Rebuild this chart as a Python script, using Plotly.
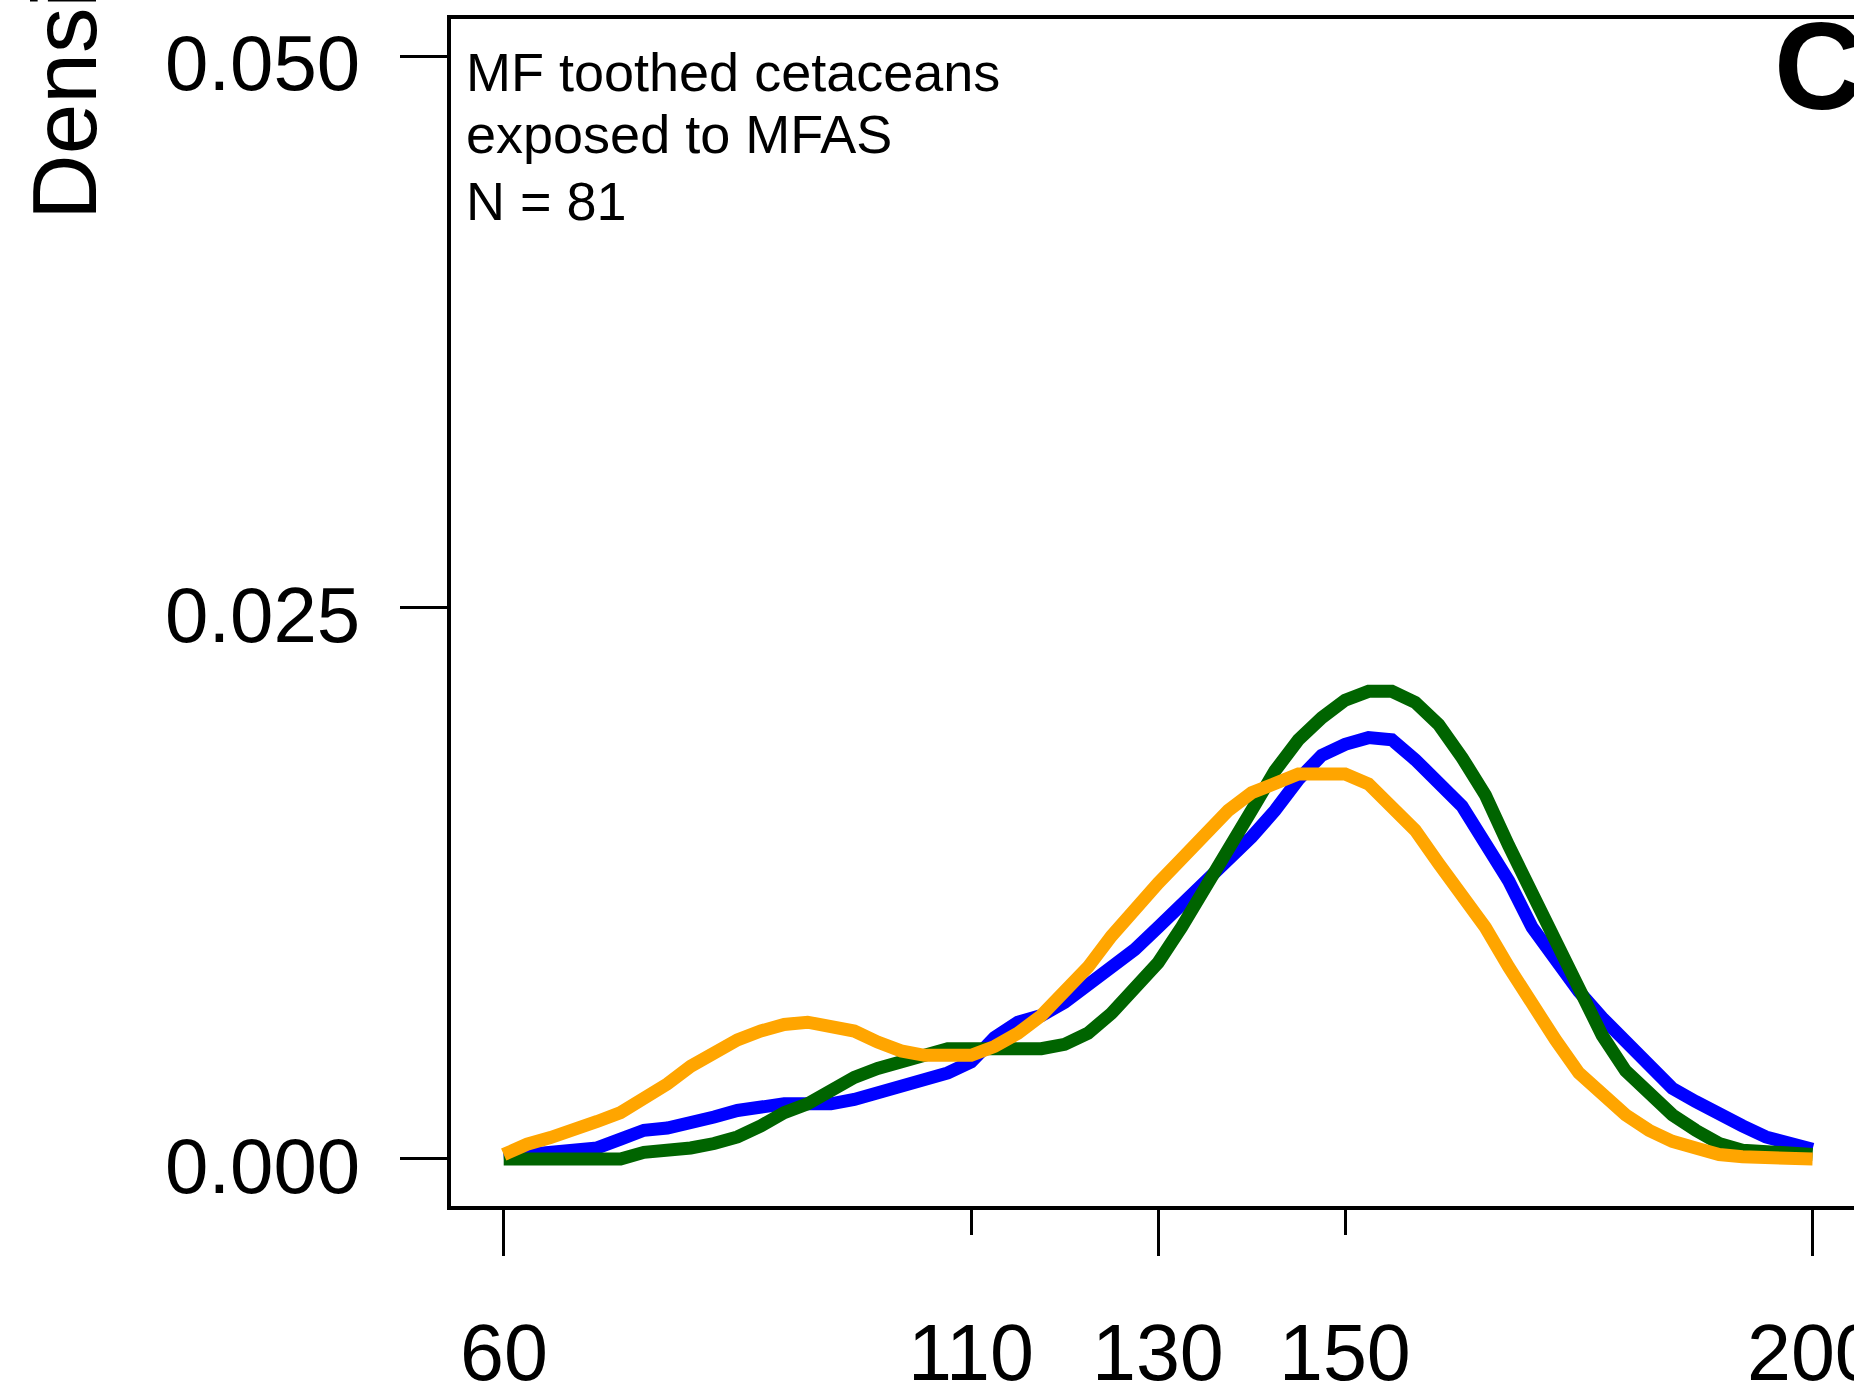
import plotly.graph_objects as go

# ---- data ----
X = [60 + 2.5 * i for i in range(57)]  # evaluation grid 60..200

BLUE = [0.0001, 0.0002, 0.0004, 0.00045, 0.0005, 0.0009, 0.0013, 0.0014, 0.0016, 0.0019,
        0.0022, 0.0024, 0.0025, 0.0025, 0.0025, 0.0027, 0.0030, 0.0032, 0.0035, 0.0039,
        0.0044, 0.0055, 0.0062, 0.0065, 0.0071, 0.0079, 0.0086, 0.0095, 0.0105, 0.0115,
        0.0124, 0.0135, 0.0146, 0.0158, 0.0172, 0.0183, 0.0188, 0.0191, 0.0190, 0.0181,
        0.0170, 0.0160, 0.0143, 0.0126, 0.0105, 0.0090, 0.0076, 0.0064, 0.0053, 0.0043,
        0.0032, 0.0026, 0.0020, 0.0015, 0.0010, 0.0007, 0.00044]

GREEN = [0.0, 0.0, 0.0, 0.0, 0.0, 0.0, 0.0003, 0.00036, 0.0005, 0.0007,
         0.0010, 0.0015, 0.0021, 0.0025, 0.0031, 0.0037, 0.0041, 0.0044, 0.0047, 0.0050,
         0.0050, 0.0050, 0.0050, 0.0050, 0.0052, 0.0057, 0.0066, 0.0077, 0.0089, 0.0105,
         0.0122, 0.0140, 0.0158, 0.0176, 0.0190, 0.0200, 0.0208, 0.0212, 0.0212, 0.0207,
         0.0197, 0.0182, 0.0165, 0.0142, 0.0120, 0.0100, 0.0076, 0.0056, 0.0040, 0.0030,
         0.0020, 0.0013, 0.0007, 0.0004, 0.0003, 0.0002, 0.0002]

ORANGE = [0.0002, 0.00067, 0.00097, 0.0014, 0.0017, 0.0021, 0.0027, 0.0034, 0.0042, 0.0048,
          0.0054, 0.0058, 0.0061, 0.0062, 0.0060, 0.0058, 0.0053, 0.0049, 0.0047, 0.0047,
          0.0047, 0.0051, 0.0057, 0.0065, 0.0076, 0.0087, 0.0101, 0.0114, 0.0125, 0.0136,
          0.0147, 0.0158, 0.0166, 0.0171, 0.01745, 0.01745, 0.01745, 0.0170, 0.0160, 0.0149,
          0.0134, 0.0119, 0.0105, 0.0087, 0.0070, 0.0054, 0.0039, 0.0029, 0.0020, 0.0013,
          0.0008, 0.0005, 0.0002, 0.0001, 0.00005, 0.0, 0.0]

X_TICKS_LONG = [60, 130, 200]
X_TICKS_SHORT = [110, 150]
Y_TICKS = [0.0, 0.025, 0.050]
ANNOT_LINES = ["MF toothed cetaceans", "exposed to MFAS", "N = 81"]
PANEL = "C"
Y_TITLE = "Density"

# ---- layout geometry (pixels) ----
W, H = 1854, 1391
L, R, T, B = 451, 0, 19, 185
PW, PH = W - L - R, H - T - B
FONT = "Liberation Sans, Arial, Helvetica, sans-serif"


def px_x(p):
    return (p - L) / PW


def px_y(p):
    return (H - B - p) / PH


fig = go.Figure()
for ys, col in [(BLUE, "#0000FF"), (GREEN, "#006400"), (ORANGE, "#FFA500")]:
    fig.add_trace(go.Scatter(x=X, y=ys, mode="lines",
                             line=dict(color=col, width=13),
                             showlegend=False, hoverinfo="skip"))

# invisible trace so the second (short-tick) axis is drawn
fig.add_trace(go.Scatter(x=X_TICKS_SHORT, y=[None] * len(X_TICKS_SHORT), xaxis="x2",
                         mode="markers", showlegend=False, hoverinfo="skip"))

XR = [54.363, 204.43]
YR = [-0.002132, 0.051679]

annotations = []
for v in Y_TICKS:
    annotations.append(dict(x=px_x(362), xref="paper", y=v, yref="y",
                            text=f"{v:.3f}", showarrow=False, xanchor="right",
                            yanchor="middle", yshift=-7,
                            font=dict(family=FONT, size=78, color="black")))
for v in sorted(X_TICKS_LONG + X_TICKS_SHORT):
    annotations.append(dict(x=v, xref="x", y=px_y(1352), yref="paper",
                            text=str(v), showarrow=False, xanchor="center",
                            yanchor="middle",
                            font=dict(family=FONT, size=79, color="black")))
for i, (line, base) in enumerate(zip(ANNOT_LINES, [91, 153, 220])):
    annotations.append(dict(x=px_x(464), xref="paper", y=px_y(base - 19), yref="paper",
                            text=line, showarrow=False, xanchor="left",
                            yanchor="middle",
                            font=dict(family=FONT, size=54, color="black")))
annotations.append(dict(x=px_x(1772), xref="paper", y=px_y(66), yref="paper",
                        text=f"<b>{PANEL}</b>", showarrow=False, xanchor="left",
                        yanchor="middle",
                        font=dict(family=FONT, size=124, color="black")))
annotations.append(dict(x=px_x(64), xref="paper", y=px_y(68), yref="paper",
                        text=Y_TITLE, textangle=-90, showarrow=False,
                        xanchor="center", yanchor="middle",
                        font=dict(family=FONT, size=91, color="black")))

fig.update_layout(
    width=W, height=H,
    margin=dict(l=L, r=R, t=T, b=B, pad=0),
    paper_bgcolor="white", plot_bgcolor="white",
    showlegend=False,
    xaxis=dict(range=XR, showgrid=False, zeroline=False, showline=True,
               linecolor="black", linewidth=4, mirror=True,
               tickmode="array", tickvals=X_TICKS_LONG, ticks="outside",
               ticklen=46, tickwidth=2.5, tickcolor="black", showticklabels=False),
    xaxis2=dict(range=XR, overlaying="x", anchor="y", side="bottom",
                showgrid=False, zeroline=False, showline=False,
                tickmode="array", tickvals=X_TICKS_SHORT, ticks="outside",
                ticklen=28, tickwidth=2.5, tickcolor="black", showticklabels=False),
    yaxis=dict(range=YR, showgrid=False, zeroline=False, showline=True,
               linecolor="black", linewidth=4, mirror=False,
               tickmode="array", tickvals=Y_TICKS, ticks="outside",
               ticklen=47, tickwidth=3, tickcolor="black", showticklabels=False),
    annotations=annotations,
)

fig.write_html(
    "out.html",
    config={"displayModeBar": False},
    post_script="document.body.style.margin='0';document.body.style.overflow='hidden';",
)
